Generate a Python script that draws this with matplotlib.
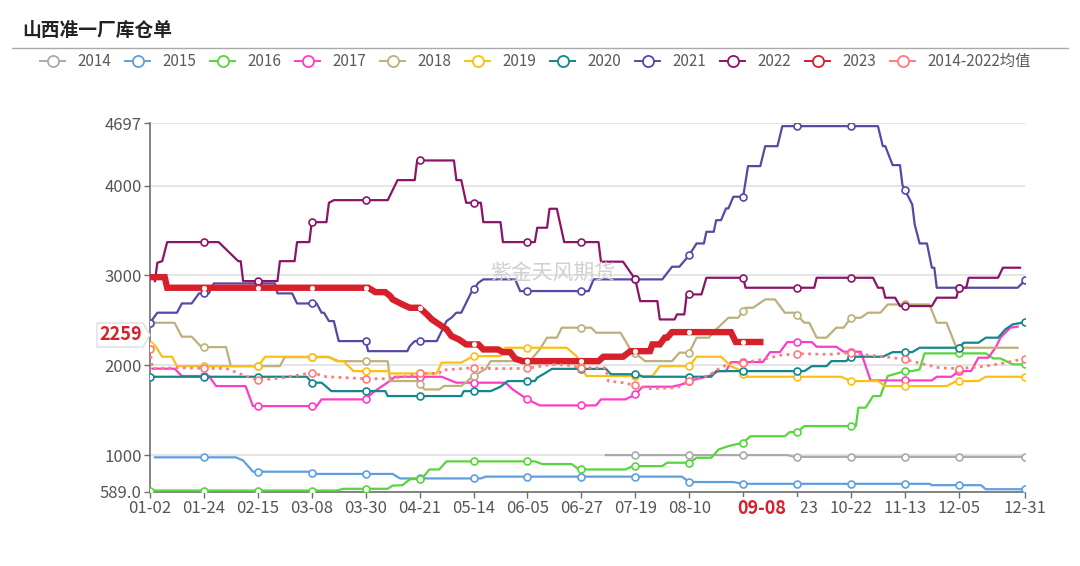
import numpy as np
import matplotlib
matplotlib.use("Agg")
import matplotlib.pyplot as plt
from matplotlib.lines import Line2D
from matplotlib.patches import Polygon, Rectangle

plt.rcParams['font.family'] = ['Noto Sans CJK SC', 'DejaVu Sans']

# ---------------- data ----------------
title = "山西准一厂库仓单"
watermark = "紫金天风期货"
tick_pos = [0, 22, 44, 66, 88, 110, 132, 154, 176, 198, 220, 242, 264, 286, 308, 330, 357]
tick_labels = ["01-02", "01-24", "02-15", "03-08", "03-30", "04-21", "05-14", "06-05",
               "06-27", "07-19", "08-10", "09-01", "09-23", "10-22", "11-13", "12-05", "12-31"]
y_ticks = [589, 1000, 2000, 3000, 4000, 4697]
y_tick_labels = ["589.0", "1000", "2000", "3000", "4000", "4697"]
current_date = "09-08"
current_value = "2259"

x_2014 = [186, 260, 263, 357]
v_2014 = [1000, 1000, 980, 980]

x_2015 = [2, 35, 38, 42, 65, 67, 99, 102, 135, 137, 217, 220, 238, 242, 318, 319, 339, 341, 357]
v_2015 = [975, 975, 940, 815, 815, 790, 790, 740, 740, 760, 760, 700, 700, 680, 680, 665, 665, 620, 620]

x_2016 = [0, 76, 79, 97, 99, 103, 106, 111, 114, 118, 121, 157, 160, 172, 175, 194, 197, 209, 211, 220,
          223, 229, 232, 236, 242, 245, 259, 261, 264, 267, 288, 289, 292, 295, 298, 301, 308, 311, 314, 316,
          341, 344, 347, 352, 357]
v_2016 = [605, 605, 625, 625, 660, 665, 730, 740, 840, 840, 930, 930, 900, 900, 840, 840, 877, 877, 915, 915,
          970, 970, 1063, 1100, 1138, 1210, 1210, 1256, 1256, 1323, 1323, 1528, 1528, 1657, 1657, 1880, 1935,
          1935, 1954, 2132, 2132, 2076, 2076, 2010, 2010]

x_2017 = [1, 10, 13, 24, 27, 39, 42, 68, 70, 88, 91, 97, 100, 119, 125, 145, 148, 154, 159, 182,
          184, 194, 198, 201, 213, 217, 220, 228, 232, 235, 237, 250, 253, 257, 260, 270, 272, 280, 283, 290,
          294, 319, 321, 327, 330, 335, 338, 342, 345, 347, 351, 354]
v_2017 = [1962, 1962, 1880, 1880, 1768, 1768, 1545, 1545, 1620, 1620, 1698, 1809, 1872, 1872, 1806, 1806,
          1731, 1620, 1553, 1553, 1620, 1620, 1675, 1761, 1761, 1787, 1824, 1880, 1935, 1935, 2035, 2035,
          2146, 2146, 2258, 2258, 2206, 2206, 2151, 2151, 1831, 1831, 1872, 1872, 1935, 1935, 2084, 2084,
          2195, 2307, 2418, 2430]

x_2018 = [0, 10, 13, 17, 21, 31, 33, 53, 55, 73, 77, 97, 98, 109, 112, 118, 120, 127, 132, 137,
          139, 155, 159, 162, 166, 168, 180, 182, 192, 196, 202, 213, 216, 220, 223, 228, 231, 236, 240, 243,
          246, 251, 255, 259, 263, 267, 269, 272, 276, 280, 283, 286, 290, 293, 298, 301, 318, 321, 325, 329,
          354]
v_2018 = [2473, 2473, 2318, 2318, 2202, 2202, 1990, 1990, 2090, 2090, 2045, 2045, 1824, 1824, 1731, 1731,
          1770, 1770, 1880, 1960, 2046, 2046, 2176, 2307, 2307, 2418, 2418, 2362, 2362, 2176, 2046, 2046,
          2140, 2140, 2307, 2307, 2400, 2529, 2529, 2640, 2640, 2733, 2733, 2585, 2585, 2473, 2473, 2307,
          2307, 2418, 2418, 2529, 2529, 2585, 2585, 2677, 2677, 2473, 2473, 2195, 2195]

x_2019 = [0, 2, 5, 9, 11, 44, 47, 73, 76, 79, 83, 97, 98, 117, 119, 127, 132, 143, 145, 170,
          174, 178, 205, 208, 220, 223, 233, 237, 240, 243, 282, 286, 297, 300, 325, 329, 338, 341, 357]
v_2019 = [2221, 2221, 2095, 2095, 1990, 1990, 2095, 2095, 2046, 2046, 1935, 1935, 1909, 1909, 2030, 2030,
          2102, 2102, 2195, 2195, 2102, 1880, 1880, 1990, 1990, 2095, 2095, 1990, 1954, 1872, 1872, 1824,
          1824, 1768, 1768, 1824, 1824, 1872, 1872]

x_2020 = [0, 64, 66, 70, 74, 96, 97, 127, 128, 139, 143, 146, 157, 158, 161, 164, 186, 188, 199, 201,
          229, 231, 267, 270, 276, 278, 284, 286, 299, 303, 311, 314, 330, 332, 338, 341, 346, 349, 352, 357]
v_2020 = [1872, 1872, 1806, 1806, 1712, 1712, 1657, 1657, 1712, 1712, 1761, 1824, 1824, 1862, 1909, 1960,
          1960, 1900, 1900, 1872, 1872, 1935, 1935, 1990, 1990, 2046, 2046, 2095, 2095, 2146, 2146, 2195,
          2195, 2251, 2251, 2307, 2307, 2400, 2455, 2480]

x_2021 = [0, 3, 11, 13, 17, 20, 24, 26, 51, 52, 58, 60, 68, 70, 71, 73, 75, 76, 77, 88,
          89, 105, 106, 108, 117, 119, 121, 123, 125, 127, 129, 131, 134, 136, 149, 151, 179, 181, 209, 213,
          216, 220, 223, 226, 227, 230, 231, 233, 235, 236, 238, 242, 244, 249, 251, 256, 258, 297, 299, 300,
          303, 306, 307, 311, 312, 314, 317, 319, 320, 321, 354, 357]
v_2021 = [2473, 2585, 2585, 2688, 2688, 2800, 2800, 2911, 2911, 2800, 2800, 2688, 2688, 2585, 2585, 2492,
          2492, 2380, 2269, 2269, 2157, 2157, 2213, 2269, 2269, 2380, 2492, 2530, 2585, 2585, 2696, 2807,
          2919, 2956, 2956, 2826, 2826, 2956, 2956, 3097, 3097, 3226, 3356, 3356, 3486, 3486, 3615, 3615,
          3746, 3746, 3876, 3876, 4217, 4217, 4439, 4439, 4662, 4662, 4439, 4439, 4228, 4228, 4005, 3790,
          3568, 3356, 3356, 3086, 3086, 2863, 2863, 2944]

x_2022 = [2, 3, 5, 7, 28, 36, 37, 38, 52, 53, 59, 60, 65, 66, 72, 73, 75, 97, 101, 108,
          109, 124, 125, 127, 129, 135, 136, 143, 144, 157, 158, 162, 163, 166, 169, 183, 184, 193, 198, 200,
          207, 208, 214, 215, 218, 219, 225, 227, 242, 243, 271, 272, 295, 297, 299, 300, 304, 306, 319, 321,
          329, 330, 333, 334, 346, 348, 355]
v_2022 = [2937, 3141, 3159, 3371, 3371, 3159, 3159, 2937, 2937, 3159, 3159, 3371, 3371, 3593, 3593, 3809,
          3838, 3838, 4061, 4061, 4280, 4280, 4061, 4061, 3809, 3809, 3593, 3593, 3371, 3371, 3531, 3531,
          3742, 3742, 3371, 3371, 3153, 3153, 2956, 2714, 2714, 2510, 2510, 2566, 2566, 2789, 2789, 2974,
          2974, 2863, 2863, 2974, 2974, 2863, 2863, 2752, 2752, 2659, 2659, 2752, 2752, 2863, 2863, 2974,
          2974, 3086, 3086]

x_2023 = [0, 6, 7, 89, 92, 96, 98, 99, 103, 106, 110, 113, 115, 118, 121, 123, 126, 129, 134, 136,
          142, 144, 147, 149, 152, 183, 185, 193, 196, 204, 205, 208, 210, 211, 213, 237, 239, 249]
v_2023 = [2981, 2981, 2863, 2863, 2814, 2814, 2770, 2733, 2677, 2640, 2640, 2566, 2510, 2455, 2399, 2325,
          2288, 2232, 2232, 2176, 2176, 2146, 2146, 2073, 2046, 2046, 2095, 2095, 2157, 2157, 2232, 2232,
          2307, 2307, 2369, 2369, 2259, 2259]

x_avg = [0, 1, 11, 22, 31, 39, 44, 53, 66, 72, 88, 96, 104, 110, 118, 119, 132, 141, 154, 164,
         171, 176, 186, 187, 193, 198, 204, 215, 220, 228, 232, 237, 242, 250, 257, 264, 277, 286, 290, 300,
         308, 316, 322, 330, 341, 349, 352, 357]
v_avg = [2184, 1962, 1972, 1965, 1965, 1880, 1835, 1855, 1917, 1872, 1850, 1850, 1872, 1909, 1909, 1946,
         1972, 1962, 1965, 2010, 1998, 1972, 1972, 1824, 1806, 1776, 1739, 1750, 1824, 1887, 1960, 2028,
         2028, 2065, 2110, 2129, 2121, 2140, 2121, 2095, 2065, 2010, 1972, 1962, 1990, 2028, 2046, 2073]

series_names = ["2014", "2015", "2016", "2017", "2018", "2019", "2020", "2021", "2022", "2023", "2014-2022均值"]
series_x = [x_2014, x_2015, x_2016, x_2017, x_2018, x_2019, x_2020, x_2021, x_2022, x_2023, x_avg]
series_v = [v_2014, v_2015, v_2016, v_2017, v_2018, v_2019, v_2020, v_2021, v_2022, v_2023, v_avg]
colors = ["#aaaaaa", "#5f9fe0", "#58d43e", "#ff3cc8", "#bdb07c", "#fdbf12", "#14868c",
          "#5549a6", "#8c1468", "#d7202a", "#ff7b7b"]

# ---------------- figure ----------------
W, H = 1080, 566
fig = plt.figure(figsize=(W / 100, H / 100), dpi=100)


def fx(x):
    return x / W


def fy(y):
    return 1 - y / H


ax = fig.add_axes([fx(150), fy(492), fx(1025) - fx(150), fy(123) - fy(492)])
ax.set_xlim(0, 357)
ax.set_ylim(589, 4697)

for i, (name, xs, vs, c) in enumerate(zip(series_names, series_x, series_v, colors)):
    z = 3 + i * 0.1
    if name == "2023":
        ax.plot(xs, vs, color=c, lw=4.6, zorder=6, solid_joinstyle='miter')
        mx = [t for t in tick_pos if xs[0] < t <= xs[-1]]
        ax.plot(mx, np.interp(mx, xs, vs), 'o', ms=3.2, mfc='white', mec='white', mew=0.5, zorder=6.1)
        continue
    if name.startswith("2014-"):
        ax.plot(xs, vs, color=c, lw=2.0, ls=(0, (1.0, 1.6)), zorder=7)
        z = 7
    else:
        ax.plot(xs, vs, color=c, lw=1.6, zorder=z)
    mx = [t for t in tick_pos if xs[0] <= t <= xs[-1]]
    ax.plot(mx, np.interp(mx, xs, vs), 'o', ms=5, mfc='white', mec=c, mew=1.2, zorder=z + 0.05)

ax.set_xticks(tick_pos, tick_labels)
ax.set_yticks(y_ticks, y_tick_labels)
ax.yaxis.grid(True, color='#e0e0e0', lw=1.2)
ax.set_axisbelow(True)
for s in ['top', 'right']:
    ax.spines[s].set_visible(False)
for s in ['left', 'bottom']:
    ax.spines[s].set_color('#6e6e6e')
    ax.spines[s].set_linewidth(1.2)
ax.tick_params(axis='x', length=4, width=1, color='#6e6e6e', labelsize=12, labelcolor='#555555', pad=2)
ax.tick_params(axis='y', length=4, width=1, color='#6e6e6e', labelsize=12, labelcolor='#555555', pad=2)

# watermark
fig.text(fx(553), fy(273), watermark, fontsize=15, color='#d0d0d0', ha='center', va='center', zorder=1)

# title and rule
fig.text(fx(22), fy(30), title, fontsize=13.5, fontweight='bold', color='#222222', va='center')
fig.add_artist(Line2D([fx(12), fx(1068)], [fy(47.5), fy(47.5)], color='#aaaaaa', lw=1.0))

# legend
for i, (name, c) in enumerate(zip(series_names, colors)):
    x0 = 40 + 85 * i
    fig.add_artist(Line2D([fx(x0), fx(x0 + 25)], [fy(61), fy(61)], color=c, lw=1.4))
    fig.add_artist(Line2D([fx(x0 + 12.5)], [fy(61)], marker='o', ms=8, mfc='white', mec=c, mew=1.3))
    fig.text(fx(x0 + 37), fy(61), name, fontsize=11, color='#5a5a5a', va='center', ha='left')

# current value label on y axis
poly = Polygon([(fx(97), fy(323)), (fx(143), fy(323)), (fx(150), fy(335)), (fx(143), fy(347)),
                (fx(97), fy(347))], closed=True, transform=fig.transFigure,
               facecolor='white', edgecolor='#dddddd', lw=1, zorder=4)
fig.add_artist(poly)
fig.text(fx(121), fy(335), current_value, fontsize=13, fontweight='bold', color='#d7202a',
         ha='center', va='center', zorder=5)

# current date label on x axis (covers the underlying category labels, as in the source)
fig.add_artist(Rectangle((fx(718), fy(522)), fx(801) - fx(718), fy(497) - fy(522),
                         transform=fig.transFigure, facecolor='white', edgecolor='none', zorder=4))
fig.text(fx(762), fy(509), current_date, fontsize=13, fontweight='bold', color='#d7202a',
         ha='center', va='center', zorder=5)

fig.savefig("out.png", dpi=100)
